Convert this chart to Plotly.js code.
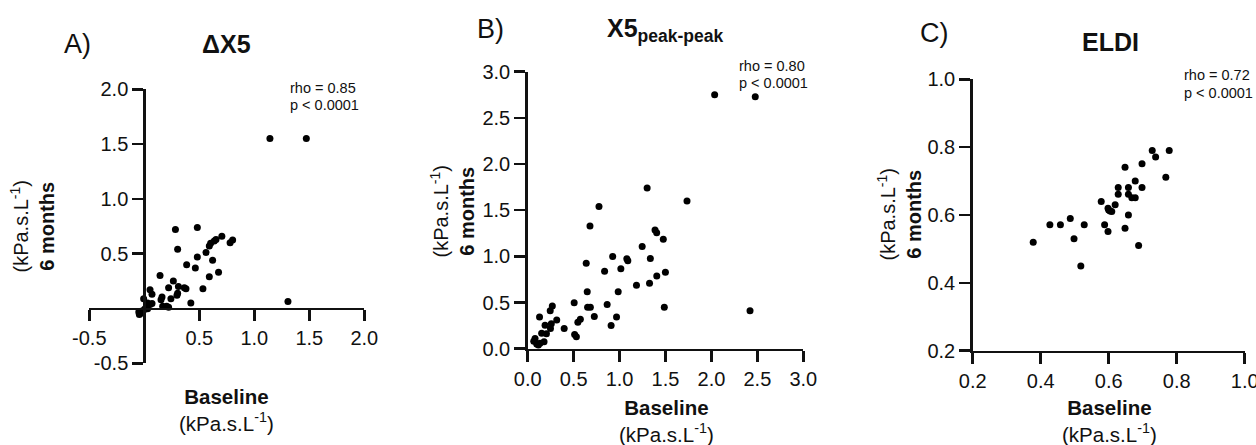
<!DOCTYPE html>
<html>
<head>
<meta charset="utf-8">
<script src="https://cdn.plot.ly/plotly-3.0.1.min.js"></script>
<style>html,body{margin:0;padding:0;background:#fff;}#chart{width:1256px;height:445px;}</style>
</head>
<body>
<div id="chart"></div>
<script>
// ---- Data ----
const panelLabels = ["A)", "B)", "C)"];
const panelTitles = ["<b>ΔX5</b>", "<b>X5<sub>peak-peak</sub></b>", "<b>ELDI</b>"];
const rhoTexts = ["rho = 0.85", "rho = 0.80", "rho = 0.72"];
const pTexts = ["p < 0.0001", "p < 0.0001", "p < 0.0001"];

const aBaseline = [1.142, 1.473, 1.306, 0.283, 0.482, 0.303, 0.705, 0.652, 0.636, 0.603, 0.591, 0.561, 0.780, 0.803, 0.482, 0.621, 0.464, 0.385, 0.675, 0.591, 0.533, 0.423, 0.143, 0.264, 0.221, 0.310, 0.364, 0.379, 0.303, 0.297, 0.242, 0.203, 0.161, 0.152, 0.167, 0.221, 0.052, 0.070, -0.006, 0.030, 0.052, 0.070, 0.015, 0.000, -0.030, -0.045, -0.021, -0.050, 0.030];
const aSixMonths = [1.55, 1.55, 0.064, 0.72, 0.74, 0.54, 0.66, 0.63, 0.615, 0.595, 0.57, 0.51, 0.60, 0.625, 0.47, 0.44, 0.37, 0.40, 0.33, 0.29, 0.18, 0.05, 0.30, 0.25, 0.19, 0.20, 0.19, 0.18, 0.14, 0.12, 0.09, 0.02, 0.105, 0.08, 0.02, 0.012, 0.17, 0.13, 0.09, 0.05, 0.036, 0.045, 0.006, -0.01, -0.024, -0.055, -0.04, -0.033, -0.003];

const bBaseline = [2.035, 2.477, 2.42, 1.30, 1.734, 0.776, 0.678, 1.386, 1.404, 1.476, 1.246, 0.925, 1.079, 1.090, 1.335, 0.637, 1.014, 0.837, 1.499, 1.405, 1.184, 1.326, 0.648, 0.985, 1.487, 0.506, 0.652, 0.682, 0.865, 0.725, 0.967, 0.908, 0.573, 0.546, 0.511, 0.530, 0.397, 0.316, 0.268, 0.245, 0.257, 0.248, 0.204, 0.189, 0.129, 0.152, 0.178, 0.134, 0.080, 0.066, 0.098, 0.116];
const bSixMonths = [2.75, 2.73, 0.41, 1.74, 1.60, 1.54, 1.33, 1.285, 1.256, 1.186, 1.107, 0.998, 0.975, 0.953, 0.977, 0.926, 0.866, 0.838, 0.827, 0.788, 0.688, 0.708, 0.617, 0.617, 0.45, 0.498, 0.45, 0.45, 0.48, 0.35, 0.342, 0.25, 0.318, 0.286, 0.153, 0.13, 0.22, 0.312, 0.462, 0.41, 0.27, 0.22, 0.163, 0.255, 0.343, 0.166, 0.076, 0.058, 0.110, 0.080, 0.05, 0.04];

const cBaseline = [0.378, 0.427, 0.458, 0.487, 0.498, 0.528, 0.518, 0.578, 0.588, 0.598, 0.598, 0.604, 0.609, 0.619, 0.628, 0.628, 0.648, 0.648, 0.658, 0.658, 0.658, 0.668, 0.678, 0.678, 0.698, 0.698, 0.688, 0.728, 0.738, 0.768, 0.778, 0.600];
const cSixMonths = [0.52, 0.571, 0.571, 0.59, 0.53, 0.571, 0.45, 0.64, 0.571, 0.551, 0.62, 0.612, 0.61, 0.63, 0.661, 0.681, 0.741, 0.561, 0.681, 0.661, 0.60, 0.651, 0.651, 0.70, 0.751, 0.681, 0.51, 0.79, 0.771, 0.711, 0.79, 0.615];

const aTickVals = [-0.5, 0.5, 1.0, 1.5, 2.0];
const aTickText = ["-0.5", "0.5", "1.0", "1.5", "2.0"];
const bTickVals = [0, 0.5, 1.0, 1.5, 2.0, 2.5, 3.0];
const bTickText = ["0.0", "0.5", "1.0", "1.5", "2.0", "2.5", "3.0"];
const cTickVals = [0.2, 0.4, 0.6, 0.8, 1.0];
const cTickText = ["0.2", "0.4", "0.6", "0.8", "1.0"];

const xTitle = "<b>Baseline</b><br>(kPa.s.L<sup>-1</sup>)";
const yTitle = "(kPa.s.L<sup>-1</sup>)<br><b>6 months</b>";

// ---- Layout geometry (pixels in the 1256x445 figure) ----
const W = 1256, H = 445;
const px = v => v / W;
const py = v => 1 - v / H;
const FONT = "Liberation Sans, Arial, sans-serif";
const INK = "#111";

function axisBase(extra) {
  return Object.assign({
    showgrid: false, zeroline: false, showline: true,
    linecolor: INK, linewidth: 2.5,
    ticks: "outside", ticklen: 11, tickwidth: 2.5, tickcolor: INK,
    tickfont: {family: FONT, size: 20, color: INK},
    ticklabeloverflow: "allow",
    tickmode: "array", fixedrange: true
  }, extra);
}

// Panel A: axes cross at zero
const aXDom = [px(89.3), px(364.3)], aYDom = [py(363.3), py(89.3)];
const aXRange = [-0.5, 2.0], aYRange = [-0.5, 2.0];
const aXpos = aYDom[0] + (0 - aYRange[0]) / (aYRange[1] - aYRange[0]) * (aYDom[1] - aYDom[0]);
const aYpos = aXDom[0] + (0 - aXRange[0]) / (aXRange[1] - aXRange[0]) * (aXDom[1] - aXDom[0]);

const marker = {color: "#000", size: 7, symbol: "circle"};
const traces = [
  {type: "scatter", mode: "markers", x: aBaseline, y: aSixMonths, xaxis: "x", yaxis: "y", marker, cliponaxis: false, hoverinfo: "x+y"},
  {type: "scatter", mode: "markers", x: bBaseline, y: bSixMonths, xaxis: "x2", yaxis: "y2", marker, cliponaxis: false, hoverinfo: "x+y"},
  {type: "scatter", mode: "markers", x: cBaseline, y: cSixMonths, xaxis: "x3", yaxis: "y3", marker, cliponaxis: false, hoverinfo: "x+y"}
];

const annBase = {xref: "paper", yref: "paper", showarrow: false, font: {family: FONT, color: INK}};
function ann(o) { return Object.assign({}, annBase, o, {font: Object.assign({}, annBase.font, o.font || {})}); }

const labelPos = [[62, 44], [475, 29], [918, 33]];
const titlePos = [[227, 44], [665, 30], [1110, 42]];
const rhoPos = [[288, 88, 105], [737, 66, 83], [1182, 75, 93]];
const yTitlePos = [[31.5, 227], [451.5, 212], [898.5, 215]];
const xTitlePos = [[227, 410], [666, 421], [1109, 421]];

const annotations = [];
for (let i = 0; i < 3; i++) {
  annotations.push(ann({text: panelLabels[i], x: px(labelPos[i][0]), y: py(labelPos[i][1]), xanchor: "left", yanchor: "middle", font: {size: 27}}));
  annotations.push(ann({text: panelTitles[i], x: px(titlePos[i][0]), y: py(titlePos[i][1]), xanchor: "center", yanchor: "middle", font: {size: 25}}));
  annotations.push(ann({text: rhoTexts[i], x: px(rhoPos[i][0]), y: py(rhoPos[i][1]), xanchor: "left", yanchor: "middle", font: {size: 14.5}}));
  annotations.push(ann({text: pTexts[i], x: px(rhoPos[i][0]), y: py(rhoPos[i][2]), xanchor: "left", yanchor: "middle", font: {size: 14.5}}));
  annotations.push(ann({text: yTitle, textangle: -90, x: px(yTitlePos[i][0]), y: py(yTitlePos[i][1]), xanchor: "center", yanchor: "middle", font: {size: 20}}));
  annotations.push(ann({text: xTitle, x: px(xTitlePos[i][0]), y: py(xTitlePos[i][1]), xanchor: "center", yanchor: "middle", font: {size: 20.5}}));
}

const layout = {
  width: W, height: H,
  margin: {l: 0, r: 0, t: 0, b: 0, pad: 0},
  paper_bgcolor: "#fff", plot_bgcolor: "rgba(0,0,0,0)",
  showlegend: false,
  font: {family: FONT, color: INK},
  xaxis: axisBase({domain: aXDom, range: aXRange, anchor: "free", position: aXpos, tickvals: aTickVals, ticktext: aTickText}),
  yaxis: axisBase({domain: aYDom, range: aYRange, anchor: "free", position: aYpos, tickvals: aTickVals, ticktext: aTickText}),
  xaxis2: axisBase({domain: [px(527.7), px(803.3)], range: [0, 3], anchor: "y2", tickvals: bTickVals, ticktext: bTickText}),
  yaxis2: axisBase({domain: [py(348.7), py(71.7)], range: [0, 3], anchor: "x2", tickvals: bTickVals, ticktext: bTickText}),
  xaxis3: axisBase({domain: [px(972.7), px(1244.7)], range: [0.2, 1.0], anchor: "y3", tickvals: cTickVals, ticktext: cTickText}),
  yaxis3: axisBase({domain: [py(350.7), py(79.3)], range: [0.2, 1.0], anchor: "x3", tickvals: cTickVals, ticktext: cTickText}),
  annotations
};

Plotly.newPlot("chart", traces, layout, {staticPlot: true, displayModeBar: false});
</script>
</body>
</html>
